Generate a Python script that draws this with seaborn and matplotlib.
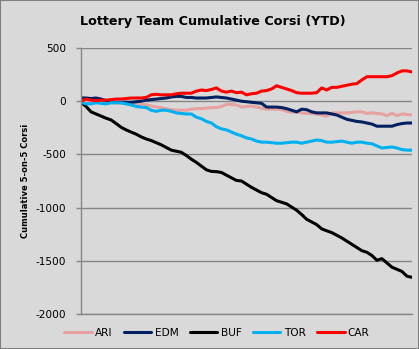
import numpy as np
import pandas as pd
import matplotlib
matplotlib.use("Agg")
import matplotlib.pyplot as plt
from matplotlib.patches import Rectangle
import seaborn as sns

teams = ["ARI", "EDM", "BUF", "TOR", "CAR"]
colors = ["#e6a1a1", "#002060", "#000000", "#00b0f0", "#ff0000"]

ARI = [0, -5, -10, -10, -10, -15, -15, -15, -20, -20, -20, -25, -30, -35, -45, -55, -60, -70, -80, -85,
       -85, -85, -75, -70, -70, -65, -60, -60, -50, -30, -30, -35, -55, -50, -45, -55, -65, -75, -75, -75,
       -80, -95, -105, -100, -110, -115, -115, -120, -130, -140, -110, -110, -110, -110, -105, -100, -100,
       -115, -110, -115, -120, -135, -115, -135, -120, -125, -130]
EDM = [30, 30, 25, 30, 20, 5, -5, -10, -10, -10, -10, -5, 0, 10, 15, 20, 25, 30, 40, 45,
       45, 35, 35, 30, 30, 30, 35, 40, 35, 30, 20, 10, 0, -5, -10, -15, -20, -55, -55, -55,
       -60, -70, -85, -100, -75, -80, -100, -110, -110, -110, -120, -130, -150, -170, -180, -190, -195,
       -205, -215, -235, -235, -235, -235, -220, -210, -205, -205]
BUF = [-10, -50, -100, -120, -140, -160, -176, -210, -245, -270, -290, -310, -335, -355, -370, -390, -410,
       -435, -460, -470, -480, -510, -545, -575, -610, -645, -660, -662, -670, -695, -720, -745, -750,
       -780, -810, -835, -860, -875, -905, -935, -950, -965, -995, -1025, -1065, -1110, -1135, -1160,
       -1200, -1218, -1235, -1260, -1285, -1315, -1345, -1375, -1405, -1420, -1450, -1495, -1480, -1520,
       -1560, -1580, -1600, -1645, -1655]
TOR = [-10, -25, -25, -15, -20, -25, -15, -15, -15, -25, -35, -50, -55, -60, -85, -95, -85, -85, -95, -110,
       -115, -120, -120, -150, -165, -190, -205, -240, -260, -270, -290, -310, -325, -345, -355, -375, -385,
       -385, -390, -395, -395, -390, -385, -385, -395, -385, -375, -365, -370, -385, -385, -380, -375, -385,
       -395, -385, -385, -395, -400, -420, -440, -435, -430, -440, -455, -460, -460]
CAR = [0, 20, 10, 5, 10, 10, 15, 20, 20, 25, 30, 30, 30, 35, 60, 65, 60, 60, 60, 70,
       75, 75, 75, 95, 105, 100, 110, 125, 95, 85, 95, 80, 85, 60, 70, 75, 95, 100, 115, 145,
       130, 115, 100, 80, 75, 75, 75, 80, 125, 105, 130, 130, 140, 150, 160, 165, 200, 230, 230, 230,
       230, 230, 240, 265, 285, 285, 275]

yticks = [500, 0, -500, -1000, -1500, -2000]

series = {"ARI": ARI, "EDM": EDM, "BUF": BUF, "TOR": TOR, "CAR": CAR}
rows = []
for t in teams:
    for i, v in enumerate(series[t]):
        rows.append({"game": i, "corsi": v, "team": t})
df = pd.DataFrame(rows)

sns.set_style("white")
plt.rcParams["font.family"] = ["DejaVu Sans"]
plt.rcParams["text.color"] = "black"
plt.rcParams["axes.labelcolor"] = "black"
plt.rcParams["ytick.color"] = "black"

bg = "#d9d9d9"
fig = plt.figure(figsize=(4.19, 3.49), dpi=100, facecolor=bg)
ax = fig.add_axes([81/419, 1-314/349, (412-81)/419, (314-48)/349])
ax.set_facecolor(bg)

sns.lineplot(data=df, x="game", y="corsi", hue="team", hue_order=teams,
             palette=dict(zip(teams, colors)), linewidth=2.2, ax=ax, legend=False)

n = len(ARI)
ax.set_xlim(0, n - 1)
ax.set_ylim(-2000, 500)
ax.set_yticks(yticks)
ax.set_yticklabels([str(v) for v in yticks], fontsize=7.6, color="black")
ax.set_xticks([])
ax.grid(axis="y", color="#868686", linewidth=1)
ax.set_axisbelow(True)
for s in ["top", "right"]:
    ax.spines[s].set_visible(False)
ax.spines["left"].set_color("#868686")
ax.spines["bottom"].set_color("#868686")
ax.spines["left"].set_linewidth(1)
ax.spines["bottom"].set_linewidth(1)
ax.tick_params(axis="y", length=3.5, color="#868686", labelcolor="black", width=1, pad=7, left=True)
ax.set_xlabel("")
ax.set_ylabel("Cumulative 5-on-5 Corsi", fontsize=6.0, fontweight="bold", labelpad=4, color="black")

fig.suptitle("Lottery Team Cumulative Corsi (YTD)", x=213/419, y=1-22/349, va="center",
             fontsize=9.2, fontweight="bold", color="black")

handles = [plt.Line2D([], [], color=c, linewidth=2.2) for c in colors]
fig.legend(handles, teams, loc="center", bbox_to_anchor=(217/419, 1-333/349), ncol=5,
           frameon=False, fontsize=7.6, handlelength=2.6, columnspacing=1.1, handletextpad=0.3,
           labelcolor="black")

fig.patches.append(Rectangle((0, 0), 1, 1, transform=fig.transFigure, fill=False,
                             edgecolor="#7f7f7f", linewidth=1.5))

fig.savefig("out.png", dpi=100, facecolor=bg)
